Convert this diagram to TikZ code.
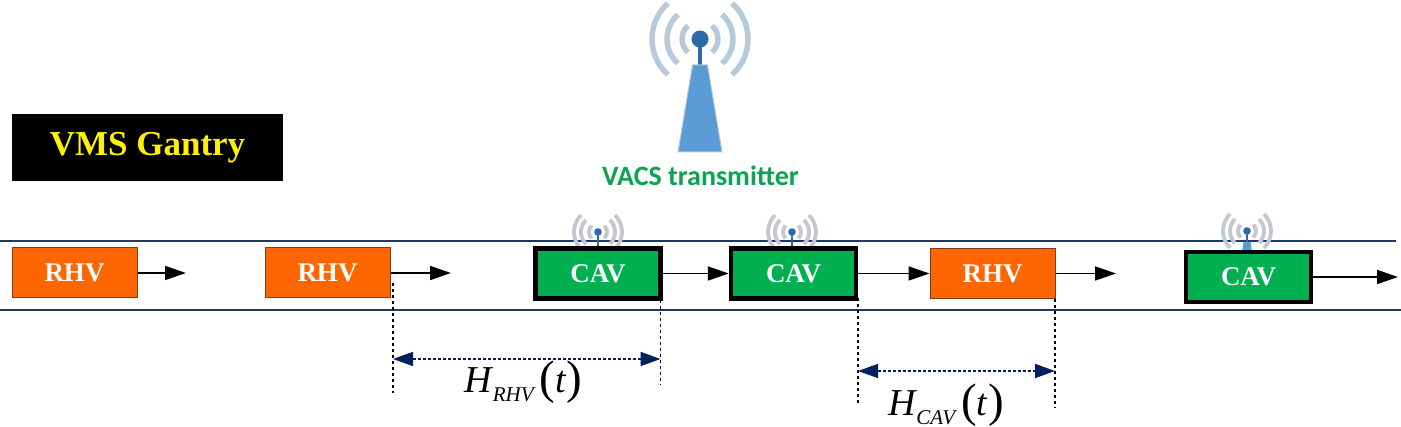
\documentclass[tikz,border=0pt]{standalone}
\usepackage{fontspec}
\setmainfont{Liberation Serif}
\newfontfamily\labelfont{Carlito}
\usetikzlibrary{arrows.meta,calc}
\definecolor{roadblue}{HTML}{1F3864}
\definecolor{dimblue}{HTML}{002060}
\definecolor{rhvorange}{HTML}{FF6600}
\definecolor{rhvedge}{HTML}{843C0C}
\definecolor{cavgreen}{HTML}{00B050}
\definecolor{towerblue}{HTML}{5B9BD5}
\definecolor{towerdark}{HTML}{2E6AA5}
\definecolor{wavebig}{HTML}{B7CADC}
\definecolor{wavesmall}{HTML}{C3C8D0}
\definecolor{labelgreen}{HTML}{0BA350}
\tikzset{
  rhvbox/.style={draw=rhvedge,line width=1pt,fill=rhvorange,minimum width=125pt,minimum height=50pt,inner sep=0pt,text=white,font=\bfseries\fontsize{27}{27}\selectfont},
  cavbox/.style={draw=black,line width=4.5pt,fill=cavgreen,minimum width=125pt,minimum height=50pt,inner sep=0pt,text=white,font=\bfseries\fontsize{27}{27}\selectfont},
  flow/.style={draw=black,line width=1.8pt,-{Triangle[length=21pt,width=14pt]}},
  road/.style={draw=roadblue,line width=1.5pt},
  guide/.style={draw=black,line width=1.6pt,dash pattern=on 3.5pt off 2.5pt},
  span/.style={draw=dimblue,line width=1.6pt,dash pattern=on 3pt off 2pt,{Triangle[length=20pt,width=14pt]}-{Triangle[length=20pt,width=14pt]}},
  hlabel/.style={inner sep=0pt,text=black},
  smallwave/.style={draw=wavesmall,line width=3.8pt},
  bigwave/.style={draw=wavebig,line width=5.5pt}
}
\newcommand{\smallant}[2]{%
  \foreach \r in {9,17,24}{
    \draw[smallwave] ($(#1,#2)+(-45:\r)$) arc[start angle=-45,end angle=45,radius=\r];
    \draw[smallwave] ($(#1,#2)+(135:\r)$) arc[start angle=135,end angle=225,radius=\r];
  }
  \draw[towerdark,line width=2pt] (#1,#2) -- (#1,#2+17);
  \fill[towerdark] (#1,#2) circle[radius=3.8];
}
\newcommand{\headway}[1]{\fontsize{38}{38}\selectfont\itshape H\hspace{1pt}\raisebox{-9pt}{\fontsize{21}{21}\selectfont #1}\hspace{6pt}{\upshape\fontsize{47}{47}\selectfont\raisebox{-1pt}{(}}t\hspace{1pt}{\upshape\fontsize{47}{47}\selectfont\raisebox{-1pt}{)}}}
\begin{document}
\begin{tikzpicture}[x=1pt,y=-1pt]
\useasboundingbox (0,0) rectangle (1401,427);
\fill[white] (0,0) rectangle (1401,427);

% roadway
\coordinate (roadTL) at (0,241); \coordinate (roadTR) at (1396,241);
\coordinate (roadBL) at (0,310); \coordinate (roadBR) at (1401,310);
\draw[road] (roadTL) -- (roadTR);
\draw[road] (roadBL) -- (roadBR);

% VMS gantry
\node[fill=black,text=yellow,minimum width=271pt,minimum height=67pt,inner sep=0pt,
  font=\bfseries\fontsize{35}{35}\selectfont] (vms) at (147.5,147.5) {VMS Gantry};

% roadside transmitter
\foreach \r in {18,33,48}{
  \draw[bigwave] ($(700,39)+(-48:\r)$) arc[start angle=-48,end angle=48,radius=\r];
  \draw[bigwave] ($(700,39)+(132:\r)$) arc[start angle=132,end angle=228,radius=\r];
}
\draw[towerdark,line width=4pt] (700,39) -- (700,66);
\fill[towerdark] (700,39) circle[radius=8.5];
\draw[fill=towerblue,draw=wavebig,line width=1pt] (678,152) -- (692.5,65) -- (707.5,65) -- (722,152) -- cycle;
\node[text=labelgreen,inner sep=0pt,font=\labelfont\bfseries\fontsize{28}{28}\selectfont] (vacs) at (700.5,176) {VACS transmitter};

% on-board antennas
\smallant{598}{232}
\smallant{792}{232}
\smallant{1247}{231}
\fill[towerblue] (1243.5,242) -- (1250.5,242) -- (1252,252) -- (1242,252) -- cycle;

% vehicles
\node[rhvbox] (r1) at (74.5,273) {RHV};
\node[rhvbox] (r2) at (327.5,273) {RHV};
\node[cavbox] (c1) at (598,273.5) {CAV};
\node[cavbox] (c2) at (793.5,273.5) {CAV};
\node[rhvbox] (r3) at (992.5,273.5) {RHV};
\node[cavbox] (c3) at (1248.5,277) {CAV};

% flow arrows
\coordinate (r1end) at (186,273); \coordinate (r2end) at (451,273);
\coordinate (r3end) at (1116,273.5); \coordinate (c3end) at (1398,277);
\draw[flow] (r1.east) -- (r1end);
\draw[flow] (r2.east) -- (r2end);
\draw[flow] (c1.east) -- (c2.west);
\draw[flow] (c2.east) -- (r3.west);
\draw[flow] (r3.east) -- (r3end);
\draw[flow] (c3.east) -- (c3end);

% headway guides
\coordinate (g1a) at (393,283); \coordinate (g1b) at (393,393);
\coordinate (g2a) at (660.5,300); \coordinate (g2b) at (660.5,385);
\coordinate (g3a) at (858,298); \coordinate (g3b) at (858,405);
\coordinate (g4a) at (1055,299); \coordinate (g4b) at (1055,408);
\draw[guide] (g1a) -- (g1b);
\draw[guide] (g2a) -- (g2b);
\draw[guide] (g3a) -- (g3b);
\draw[guide] (g4a) -- (g4b);

\coordinate (s1a) at (393,359); \coordinate (s1b) at (660.5,359);
\coordinate (s2a) at (858,371); \coordinate (s2b) at (1055,371);
\draw[span] (s1a) -- (s1b);
\draw[span] (s2a) -- (s2b);

\node[hlabel] (hrhv) at (523.5,382) {\headway{RHV}};
\node[hlabel] (hcav) at (946,405) {\headway{CAV}};
\end{tikzpicture}
\end{document}
